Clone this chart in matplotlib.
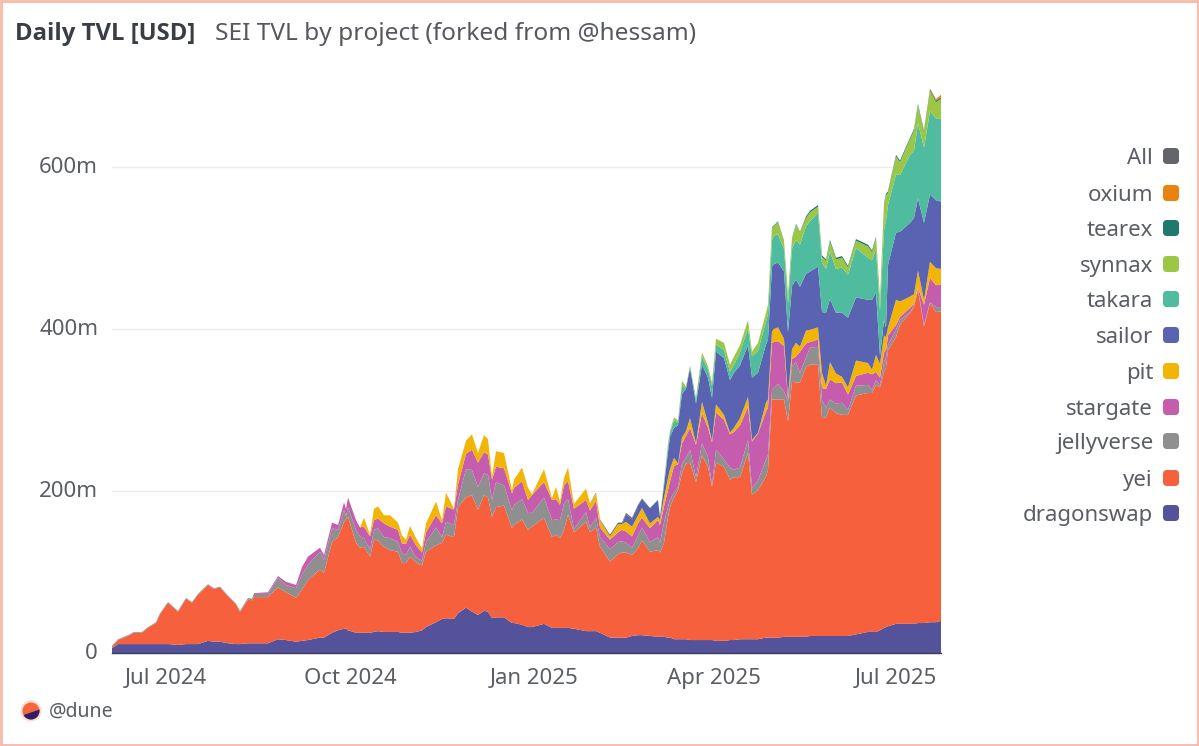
import matplotlib
matplotlib.use('Agg')
import matplotlib.pyplot as plt
import matplotlib.patches as patches
import matplotlib.dates as mdates
from matplotlib.ticker import FuncFormatter
from matplotlib.transforms import ScaledTranslation
import pandas as pd

plt.rcParams['font.family'] = ['Noto Sans', 'DejaVu Sans']

# days since 2024-06-04
day_offsets = [0,3,8,11,15,18,22,24,28,33,37,40,43,48,51,54,58,62,64,68,
    70,71,78,83,87,92,95,98,104,106,110,113,116,117,118,122,124,126,129,131,
    133,136,139,143,145,147,149,152,155,157,162,165,167,171,173,177,180,183,186,188,
    190,192,196,200,201,205,208,210,216,220,222,224,226,228,231,237,239,242,244,249,
    253,255,257,260,263,265,269,273,274,276,278,279,281,283,285,287,289,292,295,298,
    300,302,306,309,311,314,318,320,323,327,328,330,331,333,336,338,340,342,344,347,
    349,353,355,357,359,362,365,368,372,378,380,382,384,386,387,388,392,394,399,401,
    403,406,409,412,415]

# all values in million USD
dragonswap = [6,11,11,11,11,11,11,11,11,10,
    11,11,11,15,14,14,12,11,11,12,
    12,12,12,17,16,14,15,16,19,19,
    25,28,30,30,28,25,25,25,25,26,
    27,26,26,26,25,25,25,26,28,32,
    38,42,43,42,49,56,51,47,52,51,
    43,44,44,37,37,35,32,32,36,31,
    31,31,31,31,30,27,27,27,25,19,
    19,19,19,21,22,22,21,20,20,20,
    19,19,17,17,17,17,16,16,16,16,
    16,15,15,16,16,17,17,17,17,19,
    19,19,19,19,20,20,20,20,20,20,
    21,21,21,21,21,21,21,21,23,26,
    26,26,28,31,32,33,36,36,36,36,
    37,37,38,38,40]
yei = [2,5,10,14,14,20,26,37,51,41,
    56,51,61,69,65,67,58,49,40,54,
    53,57,57,64,59,54,63,74,84,80,
    112,115,132,135,140,111,105,106,94,114,
    112,105,101,99,86,86,94,86,80,93,
    95,94,103,101,131,136,144,130,143,141,
    125,136,138,117,121,130,120,124,131,112,
    115,111,121,140,119,135,122,128,106,94,
    103,105,105,100,107,117,104,107,104,116,
    149,161,175,184,205,217,219,195,228,214,
    189,220,215,198,201,200,230,178,184,199,
    207,294,294,294,293,266,315,314,314,333,
    335,335,269,270,282,275,273,273,295,295,
    295,305,300,316,321,341,354,369,384,391,
    411,366,394,383,382]
jellyverse = [1,1,1,1,1,1,1,1,1,1,
    1,1,1,1,1,1,1,1,1,2,
    2,4,4,12,9,12,19,19,22,16,
    17,9,15,4,12,16,14,11,9,12,
    15,12,15,12,12,10,12,6,6,12,
    22,7,16,15,9,35,31,28,27,28,
    21,31,25,22,25,25,21,17,25,21,
    19,22,33,19,4,12,6,12,12,15,
    15,14,12,9,16,16,12,16,12,25,
    12,10,6,4,12,7,16,6,15,12,
    2,16,9,15,9,12,16,9,12,21,
    19,12,15,19,10,25,19,25,12,12,
    21,22,22,12,10,12,15,6,12,10,
    4,6,2,12,12,6,9,6,1,2,
    2,2,1,6,5]
stargate = [0,0,0,0,0,0,0,0,0,0,
    0,0,0,0,0,0,0,0,0,0,
    0,1,2,2,4,4,9,10,5,6,
    7,6,9,9,12,12,11,14,16,12,
    12,17,14,15,12,14,15,15,10,12,
    15,17,19,19,19,19,25,30,26,25,
    25,19,21,21,21,22,16,22,19,25,
    25,19,22,22,25,15,21,21,12,12,
    12,14,14,14,15,12,17,21,22,20,
    21,22,33,28,25,27,27,40,37,36,
    53,46,49,41,47,52,41,57,58,59,
    58,58,56,53,56,2,9,7,26,17,
    7,9,15,23,25,25,25,19,12,15,
    19,10,10,12,9,12,6,4,5,2,
    1,25,30,27,28]
pit = [0]*37 + [11,2,14,15,10,14,9,10,5,11,9,5,11,
    17,4,17,1,19,16,19,12,21,19,
    4,19,19,4,10,17,15,1,16,2,
    15,4,9,17,6,14,9,9,9,4,
    10,7,12,12,10,12,6,4,6,11,
    15,15,10,1,7,6,12,2,14,6,
    2,10,6,2,5,9,12,2,1,11,
    10,14,16,17,9,4,12,17,6,16,
    15,15,19,4,21,12,7,9,19,12,
    6,21,17,21,16,10,31,19,14,12,
    21,6,20,21,19]
sailor = [0]*82 + [9,9,12,11,19,21,4,14,
    32,40,37,47,54,52,62,49,46,56,
    53,65,70,65,68,65,64,77,74,72,
    74,80,80,80,83,79,78,78,74,70,
    72,75,75,90,78,75,79,86,78,78,
    86,77,10,19,12,77,83,86,91,94,
    89,95,83,84,83]
takara = [0]*89 + [4,
    7,5,9,4,10,1,2,5,10,10,
    15,9,10,10,10,16,21,26,27,28,
    31,33,35,35,28,35,46,49,52,59,
    62,67,61,54,59,54,56,53,61,52,
    49,53,56,111,132,74,72,70,84,83,
    93,93,103,101,103]
synnax = [0]*89 + [2,
    4,2,4,2,6,2,1,2,5,4,
    4,7,9,9,10,9,10,6,10,11,
    12,15,12,15,9,10,12,19,15,10,
    11,7,7,10,12,12,12,9,9,14,
    10,14,12,31,31,15,22,16,19,25,
    22,19,25,20,25]
tearex = [0]*110 + [0,1,1,1,1,1,1,1,1,2,
    2,2,2,2,2,2,2,2,2,2,
    2,2,2,2,2,2,2,2,2,2,
    2,2,2,2,2]
oxium = [0]*141 + [0,1,2,3]
all_series = [0]*77 + [1,1,2,2,2,2,2,1,1] + [0]*59

series_names = ['dragonswap', 'yei', 'jellyverse', 'stargate', 'pit', 'sailor',
                'takara', 'synnax', 'tearex', 'oxium', 'All']
series_values = [dragonswap, yei, jellyverse, stargate, pit, sailor,
                 takara, synnax, tearex, oxium, all_series]
series_colors = ['#53529b', '#f6603c', '#8f8f8f', '#c65cae', '#f3b505', '#5a62b2',
                 '#4fbb9f', '#9bc744', '#1f7a6c', '#e8830f', '#63656b']

y_ticks = [0, 200, 400, 600]
x_ticks = ['2024-07-01', '2024-10-01', '2025-01-01', '2025-04-01', '2025-07-01']

text_color = '#5a5d63'
start = pd.Timestamp('2024-06-04')
dates = start + pd.to_timedelta(day_offsets, unit='D')

W, H = 1199, 746
fig = plt.figure(figsize=(W / 100, H / 100), dpi=100, facecolor='white')

# overlay in pixel coordinates for the frame, titles, legend and logo
bg = fig.add_axes([0, 0, 1, 1])
bg.set_xlim(0, W)
bg.set_ylim(H, 0)
bg.axis('off')

ax = fig.add_axes([112 / W, (H - 653) / H, (941 - 112) / W, (653 - 85) / H])
ax.patch.set_alpha(0)
ax.stackplot(dates, series_values, colors=series_colors, linewidth=0, zorder=3)
ax.set_xlim(start, start + pd.Timedelta(days=414.5))
ax.set_ylim(0, 568 / 0.81)
for s in ['top', 'left', 'right']:
    ax.spines[s].set_visible(False)
ax.spines['bottom'].set_color('#3c3c55')
ax.spines['bottom'].set_linewidth(1)
ax.spines['bottom'].set_zorder(4)
ax.set_yticks(y_ticks)
ax.yaxis.set_major_formatter(FuncFormatter(lambda v, p: '0' if v == 0 else '%dm' % v))
ax.set_xticks(pd.to_datetime(x_ticks))
ax.xaxis.set_major_formatter(mdates.DateFormatter('%b %Y'))
ax.tick_params(axis='both', length=0, labelsize=16, labelcolor=text_color)
ax.tick_params(axis='y', pad=10)
ax.tick_params(axis='x', pad=11)
ax.grid(axis='y', color='#ececec', linewidth=1, zorder=0)
ax.set_axisbelow(True)
# y labels sit a little above their gridlines
up = ScaledTranslation(0, 2 / 100, fig.dpi_scale_trans)
for label in ax.get_yticklabels():
    label.set_transform(label.get_transform() + up)

# outer frame
bg.add_patch(patches.Rectangle((1, 1), W - 2, H - 2, fill=False, edgecolor='#f7b9a8', linewidth=2))

bg.text(15, 40, 'Daily TVL [USD]', fontsize=17.2, fontweight='bold', family=['Open Sans', 'DejaVu Sans'],
        color='#3a3d44', va='baseline')
bg.text(215, 40, 'SEI TVL by project (forked from @hessam)', fontsize=17.6, color='#55585e', va='baseline')

# legend, top entry first
legend_y = [156, 193, 228, 264, 299, 335, 371, 407, 441, 478, 513]
for name, color, y in zip(series_names[::-1], series_colors[::-1], legend_y):
    bg.text(1153, y + 8, name, fontsize=16, color=text_color, ha='right', va='baseline')
    bg.add_patch(patches.FancyBboxPatch((1166, y - 5), 10, 10, boxstyle='round,pad=3,rounding_size=4',
                                        facecolor=color, edgecolor='none'))

# dune logo
bg.add_patch(patches.Circle((31, 711), 10.5, facecolor='#fcdcd2', edgecolor='none'))
logo = patches.Circle((31, 711), 8.5, facecolor='#f6663a', edgecolor='none')
bg.add_patch(logo)
dark = patches.Polygon([(21, 716), (41, 709), (41, 722), (21, 722)], facecolor='#2c1f66', edgecolor='none')
bg.add_patch(dark)
dark.set_clip_path(logo)
bg.text(49, 712, '@dune', fontsize=14, color=text_color, va='center')

fig.savefig('out.png', dpi=100)
